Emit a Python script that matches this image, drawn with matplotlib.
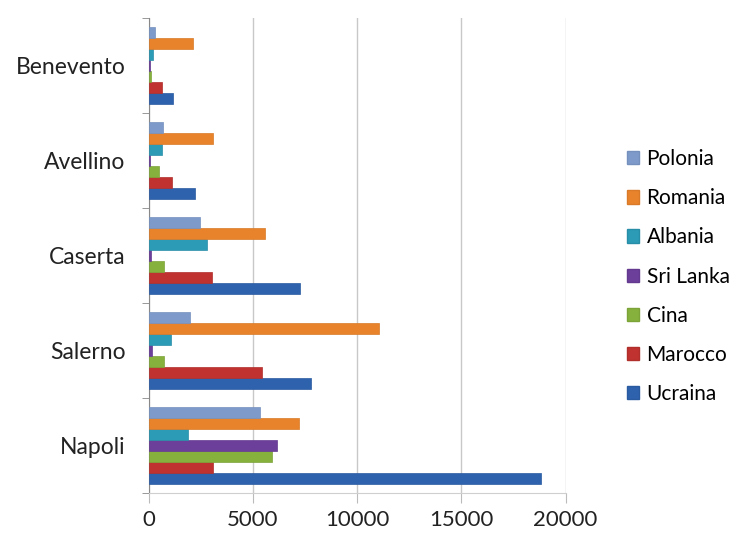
import numpy as np
import matplotlib.pyplot as plt
from matplotlib.patches import Patch

provinces = ['Napoli', 'Salerno', 'Caserta', 'Avellino', 'Benevento']
# series listed bottom-to-top inside each group
series = ['Ucraina', 'Marocco', 'Cina', 'Sri Lanka', 'Albania', 'Romania', 'Polonia']
ucraina = [18800, 7780, 7280, 2220, 1170]
marocco = [3080, 5430, 3020, 1120, 640]
cina = [5920, 740, 740, 480, 100]
sri_lanka = [6150, 180, 100, 60, 40]
albania = [1880, 1090, 2800, 620, 210]
romania = [7230, 11030, 5560, 3080, 2120]
polonia = [5350, 1970, 2440, 690, 290]

values = [ucraina, marocco, cina, sri_lanka, albania, romania, polonia]
colors = ['#2e62ad', '#c0322f', '#87b13d', '#6c3f9b', '#2c9bb6', '#e8832b', '#7e9aca']
edges = ['#2a5a9f', '#b02e2b', '#7ca338', '#633a8f', '#288ea8', '#d97a28', '#7590bd']

plt.rcParams['font.family'] = ['Lato', 'DejaVu Sans']

fig = plt.figure(figsize=(7.38, 5.34), dpi=100)
ax = fig.add_axes([0.2015, 0.0768, 0.565, 0.8886])

y = np.arange(len(provinces))
h = 0.116
for i, (name, vals) in enumerate(zip(series, values)):
    ax.barh(y + (i - 3) * h, vals, height=h, color=colors[i],
            edgecolor=edges[i], linewidth=0.5, label=name, zorder=3)

ax.set_xlim(0, 20000)
ax.set_ylim(-0.5, 4.5)
ax.set_xticks([0, 5000, 10000, 15000, 20000])
ax.set_yticks(y)
ax.set_yticklabels(provinces)
ax.set_yticks(np.arange(-0.5, 5, 1), minor=True)
ax.tick_params(axis='y', which='major', length=0, pad=16.5, labelsize=16.5, colors='#222222')
ax.tick_params(axis='y', which='minor', length=5, color='#888888', direction='out')
ax.tick_params(axis='x', length=7, color='#bbbbbb', labelsize=16, colors='#222222', pad=5)
ax.grid(axis='x', color='#c8c8c8', linewidth=1, zorder=0)

for s in ['top', 'right']:
    ax.spines[s].set_visible(False)
ax.spines['left'].set_color('#888888')
ax.spines['bottom'].set_color('#cfcfcf')

handles = [Patch(facecolor=colors[i], edgecolor=edges[i]) for i in range(6, -1, -1)]
labels = [series[i] for i in range(6, -1, -1)]
fig.legend(handles, labels, loc='center left', bbox_to_anchor=(0.838, 0.482),
           frameon=False, fontsize=15, handlelength=0.6, handleheight=0.6,
           handletextpad=0.35, labelspacing=0.92, borderaxespad=0)

fig.savefig('out.png', dpi=100)
